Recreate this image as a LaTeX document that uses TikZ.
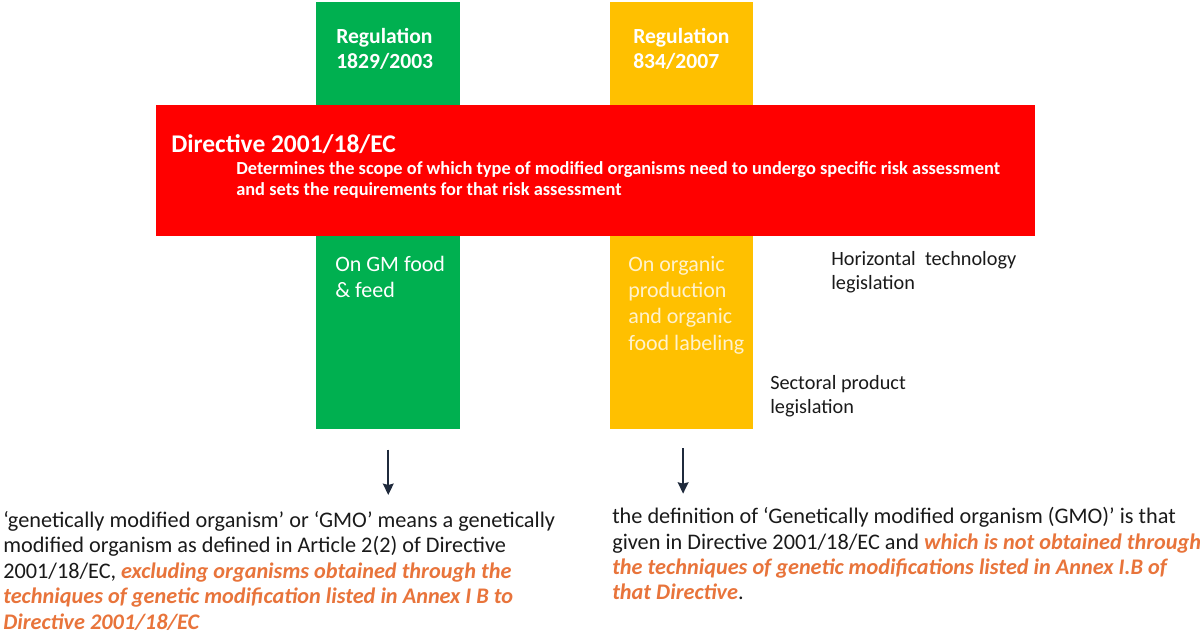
\documentclass[tikz,border=0pt]{standalone}
\usepackage{fontspec}
\setmainfont{Carlito}
\usepackage{xcolor}
\usetikzlibrary{arrows.meta,positioning}

\definecolor{gmgreen}{HTML}{00B050}
\definecolor{orgyellow}{HTML}{FFC000}
\definecolor{dirred}{HTML}{FF0000}
\definecolor{hlorange}{HTML}{E8743B}
\definecolor{cream}{HTML}{FFF2CC}
\definecolor{arrowblue}{HTML}{1F2A3C}
\definecolor{inkgrey}{HTML}{1A1A1A}

\newcommand{\keyphrase}[1]{{\color{hlorange}\bfseries\itshape #1}}

\begin{document}
\begin{tikzpicture}[
  x=0.75pt, y=-0.75pt,
  column/.style={rectangle, inner sep=0pt, anchor=north west,
                 minimum height=320.25pt},
  band/.style={rectangle, inner sep=0pt, anchor=north west, fill=dirred,
               minimum width=659pt, minimum height=98.25pt},
  reglabel/.style={anchor=north west, inner sep=0pt, align=left, text=white,
                   font=\fontsize{16.2pt}{18.9pt}\selectfont\bfseries},
  scopelabel/.style={anchor=north west, inner sep=0pt, align=left,
                     font=\fontsize{16.5pt}{19.7pt}\selectfont},
  sidenote/.style={anchor=north west, inner sep=0pt, align=left, text=inkgrey,
                   font=\fontsize{15.2pt}{18pt}\selectfont},
  defn/.style={anchor=north west, inner sep=0pt, align=left, text=inkgrey,
               font=\fontsize{16.7pt}{19.1pt}\selectfont},
  flow/.style={-{Stealth[length=8.5pt, width=8pt, inset=1pt]}, arrowblue,
               line width=1.6pt},
]
\useasboundingbox (0,0) rectangle (1200,638);

% Sectoral regulations (columns)
\node[column, fill=gmgreen, minimum width=108pt] (gmcol) at (316,2) {};
\node[column, fill=orgyellow, minimum width=107.25pt] (orgcol) at (610,2) {};
\node[reglabel] (gmreg) at (336,28) {Regulation\\1829/2003};
\node[reglabel] (orgreg) at (633,28) {Regulation\\834/2007};

% Horizontal directive (band)
\node[band] (dirband) at (156,105) {};
\node[anchor=north west, inner sep=0pt, text=white,
      font=\fontsize{19.1pt}{24pt}\selectfont\bfseries] (dirtitle) at (171,134)
  {Directive 2001/18/EC};
\node[anchor=north west, inner sep=0pt, align=left, text=white,
      font=\fontsize{13.8pt}{15.75pt}\selectfont\bfseries] (dirscope) at (236,161)
  {Determines the scope of which type of modified organisms need to undergo specific risk assessment\\
   and sets the requirements for that risk assessment};

% Scope of the columns
\node[scopelabel, text=white] (gmscope) at (335,256) {On GM food\\\& feed};
\node[scopelabel, text=cream] (orgscope) at (628,256)
  {On organic\\production\\and organic\\food labeling};

% Side notes
\node[sidenote] (horiz) at (831,251) {Horizontal~ technology\\legislation};
\node[sidenote] (sector) at (770,375) {Sectoral product\\legislation};

% Definitions
\node[defn] (gmdef) at (3,511)
  {‘genetically modified organism’ or ‘GMO’ means a genetically\\
   modified organism as defined in Article 2(2) of Directive\\
   2001/18/EC, \keyphrase{excluding organisms obtained through the}\\
   \keyphrase{techniques of genetic modification listed in Annex I B to}\\
   \keyphrase{Directive 2001/18/EC}};
\node[defn] (orgdef) at (612,507)
  {the definition of ‘Genetically modified organism (GMO)’ is that\\
   given in Directive 2001/18/EC and \keyphrase{which is not obtained through}\\
   \keyphrase{the techniques of genetic modifications listed in Annex I.B of}\\
   \keyphrase{that Directive}.};

% Connections
\coordinate (orgfoot) at ([xshift=1pt]orgcol.south);
\draw[flow, shorten <=15pt, shorten >=12pt] (gmcol.south) -- (gmdef.north -| gmcol.south);
\draw[flow, shorten <=14pt, shorten >=10pt] (orgfoot) -- (orgdef.north -| orgfoot);

\end{tikzpicture}
\end{document}
